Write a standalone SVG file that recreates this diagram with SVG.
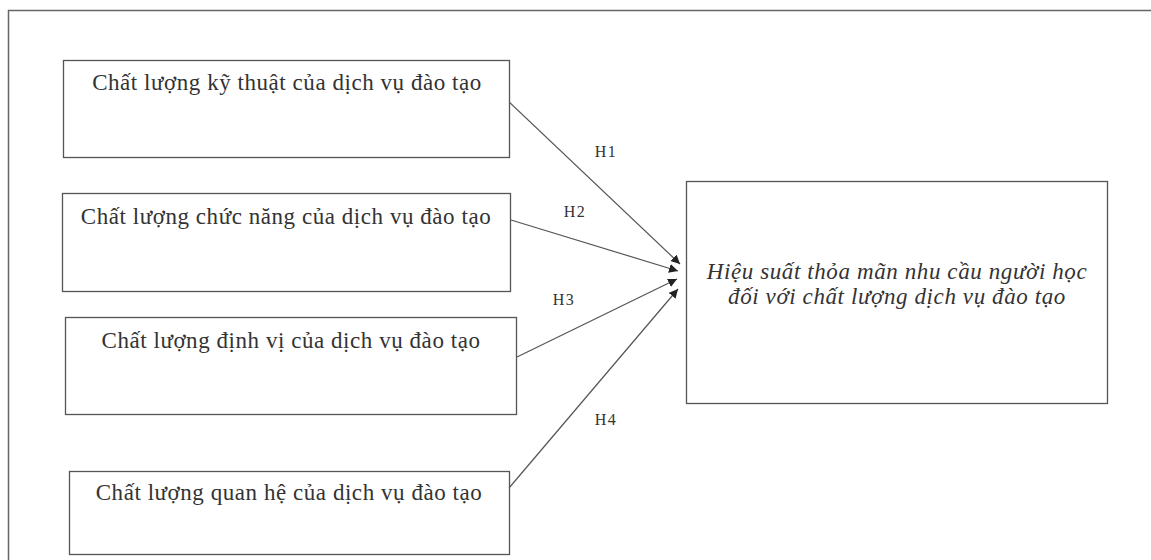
<svg xmlns="http://www.w3.org/2000/svg" width="1151" height="560" viewBox="0 0 1151 560">
<style>
.box{fill:#fff;stroke:#555;stroke-width:1.3}
.t{font-family:"Liberation Serif","Times New Roman",serif;font-size:23px;letter-spacing:0.55px;fill:#333;text-anchor:middle}
.ti{font-family:"Liberation Serif","Times New Roman",serif;font-size:23px;letter-spacing:0.6px;font-style:italic;fill:#333;text-anchor:middle}
.lbl{font-family:"Liberation Serif","Times New Roman",serif;font-size:16px;letter-spacing:1.5px;fill:#333;text-anchor:middle}
.c{stroke:#555;stroke-width:1.2;fill:none;marker-end:url(#ah)}
</style>
<defs>
<marker id="ah" viewBox="0 0 10 10" refX="10" refY="5" markerWidth="9" markerHeight="9" markerUnits="userSpaceOnUse" orient="auto">
<path d="M0,0 L10,5 L0,10 z" fill="#222"/>
</marker>
</defs>
<rect width="1151" height="560" fill="#fff"/>
<g id="frame">
<line x1="8" y1="10.5" x2="1151" y2="10.5" stroke="#666" stroke-width="1.5"/>
<line x1="8.5" y1="10" x2="8.5" y2="560" stroke="#666" stroke-width="1.5"/>
</g>
<g id="connectors">
<line class="c" x1="508" y1="101" x2="680" y2="264"/>
<line class="c" x1="511" y1="220" x2="678" y2="271"/>
<line class="c" x1="517" y1="357" x2="677" y2="279"/>
<line class="c" x1="509" y1="488" x2="678" y2="289"/>
<text class="lbl" x="606" y="157">H1</text>
<text class="lbl" x="575" y="217">H2</text>
<text class="lbl" x="564" y="305">H3</text>
<text class="lbl" x="606" y="425">H4</text>
</g>
<g id="n1">
<rect class="box" x="63.5" y="60.5" width="446" height="97"/>
<text class="t" x="287" y="90">Chất lượng kỹ thuật của dịch vụ đào tạo</text>
</g>
<g id="n2">
<rect class="box" x="62.5" y="193.5" width="448" height="98"/>
<text class="t" x="286" y="224">Chất lượng chức năng của dịch vụ đào tạo</text>
</g>
<g id="n3">
<rect class="box" x="65.5" y="317.5" width="451" height="97"/>
<text class="t" x="291" y="348">Chất lượng định vị của dịch vụ đào tạo</text>
</g>
<g id="n4">
<rect class="box" x="69.5" y="471.5" width="440" height="83"/>
<text class="t" x="289" y="500">Chất lượng quan hệ của dịch vụ đào tạo</text>
</g>
<g id="n5">
<rect class="box" x="686.5" y="181.5" width="421" height="222"/>
<text class="ti" x="897" y="279">Hiệu suất thỏa mãn nhu cầu người học</text>
<text class="ti" x="897" y="304">đối với chất lượng dịch vụ đào tạo</text>
</g>
</svg>
